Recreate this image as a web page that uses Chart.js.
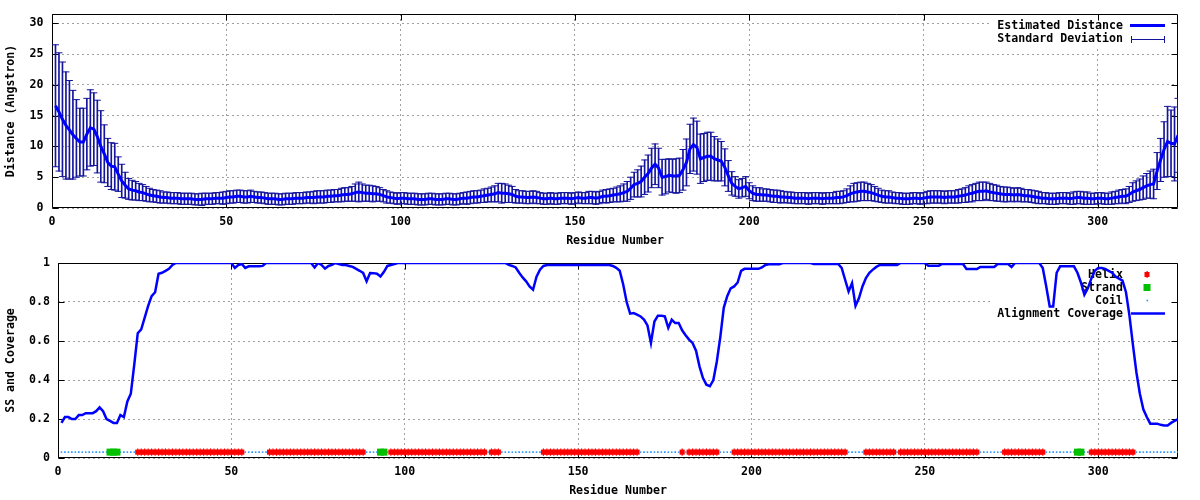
<!DOCTYPE html>
<html><head><meta charset="utf-8">
<script src="https://cdn.jsdelivr.net/npm/chart.js@4/dist/chart.umd.min.js"></script>
<style>
html,body{margin:0;padding:0;background:#fff;width:1200px;height:500px;overflow:hidden}
.box{position:absolute;left:0;width:1200px;height:250px}
canvas{display:block}
</style></head><body>
<div class="box" style="top:0"><canvas id="c1" width="1200" height="250"></canvas></div>
<div class="box" style="top:250px"><canvas id="c2" width="1200" height="250"></canvas></div>
<script>
// ---------------- DATA ----------------
const residueCount = 323;
const residues = Array.from({length: residueCount}, (_, i) => i + 1);

const estimatedDistance = [
16.6,15.6,14.4,13.4,12.7,11.9,11.3,10.7,10.7,12.0,
13.0,12.8,11.6,10.0,8.8,7.4,6.8,6.7,5.5,4.4,
3.7,3.1,2.9,2.8,2.6,2.5,2.3,2.1,2.0,1.9,
1.8,1.7,1.7,1.6,1.6,1.6,1.5,1.5,1.5,1.5,
1.4,1.4,1.4,1.5,1.5,1.5,1.6,1.6,1.6,1.7,
1.8,1.8,1.9,1.9,1.8,1.8,1.9,1.8,1.7,1.7,
1.6,1.5,1.5,1.5,1.4,1.4,1.5,1.5,1.5,1.6,
1.6,1.6,1.7,1.7,1.7,1.8,1.8,1.8,1.9,1.9,
2.0,2.0,2.1,2.2,2.2,2.3,2.5,2.6,2.5,2.4,
2.4,2.3,2.3,2.2,2.0,1.8,1.7,1.6,1.5,1.6,
1.6,1.5,1.5,1.5,1.4,1.4,1.4,1.5,1.5,1.4,
1.4,1.4,1.5,1.5,1.4,1.4,1.5,1.6,1.6,1.7,
1.8,1.8,1.9,2.0,2.1,2.2,2.3,2.5,2.4,2.4,
2.3,2.2,1.9,1.8,1.8,1.7,1.7,1.8,1.7,1.6,
1.5,1.5,1.6,1.5,1.5,1.6,1.6,1.6,1.5,1.6,
1.7,1.6,1.6,1.7,1.7,1.6,1.7,1.9,1.9,2.0,
2.1,2.2,2.3,2.5,2.7,3.2,3.8,4.0,4.3,5.0,
5.6,6.5,7.1,6.5,5.0,5.1,5.3,5.2,5.2,5.3,
6.2,7.4,9.6,10.3,9.8,8.0,8.2,8.4,8.4,8.0,
7.8,7.6,6.6,5.2,4.0,3.5,3.1,3.3,3.5,2.8,
2.4,2.2,2.2,2.1,2.1,2.0,1.9,1.9,1.8,1.8,
1.7,1.7,1.6,1.6,1.6,1.6,1.5,1.6,1.6,1.6,
1.5,1.6,1.6,1.6,1.7,1.7,1.8,2.0,2.3,2.5,
2.6,2.7,2.7,2.6,2.5,2.3,2.1,1.9,1.8,1.8,
1.7,1.6,1.6,1.5,1.5,1.5,1.6,1.6,1.5,1.6,
1.7,1.8,1.8,1.8,1.8,1.7,1.8,1.8,1.8,1.9,
2.0,2.1,2.3,2.4,2.6,2.7,2.7,2.8,2.6,2.5,
2.4,2.3,2.2,2.2,2.2,2.1,2.2,2.1,2.0,2.0,
1.9,1.8,1.7,1.6,1.6,1.5,1.5,1.5,1.6,1.6,
1.6,1.5,1.6,1.7,1.7,1.6,1.6,1.5,1.5,1.6,
1.6,1.5,1.5,1.6,1.7,1.8,1.9,1.9,2.2,2.6,
2.8,3.0,3.3,3.6,3.8,3.9,6.0,7.8,9.5,10.8,
10.5,10.4,11.8
];

const standardDeviation = [
9.9,9.6,9.3,8.7,8.0,7.2,6.3,5.5,5.5,5.8,
6.2,5.9,5.9,5.8,4.7,3.9,3.8,3.8,2.8,2.7,
2.1,1.7,1.6,1.5,1.4,1.3,1.2,1.1,1.0,1.0,
1.0,0.9,0.9,0.9,0.9,0.9,0.9,0.9,0.9,0.9,
0.9,0.9,1.0,0.9,0.9,0.9,0.9,0.9,1.0,1.0,
1.0,1.0,1.0,1.0,1.0,1.0,1.0,0.9,0.9,0.9,
0.9,0.9,0.9,0.9,0.9,0.9,0.9,0.9,0.9,0.9,
0.9,0.9,0.9,0.9,1.0,1.0,1.0,1.0,1.0,1.0,
1.0,1.0,1.1,1.1,1.1,1.2,1.4,1.6,1.4,1.3,
1.3,1.3,1.2,1.1,1.0,1.0,0.9,0.9,0.9,0.9,
0.9,0.9,0.9,0.9,0.9,0.9,0.9,0.9,0.9,0.9,
0.9,0.9,0.9,0.9,0.9,0.9,0.9,0.9,1.0,1.0,
1.0,1.0,1.0,1.1,1.1,1.2,1.3,1.5,1.6,1.5,
1.4,1.3,1.1,1.0,1.0,1.0,1.0,1.0,1.0,0.9,
0.9,0.9,0.9,0.9,0.9,0.9,0.9,0.9,0.9,0.9,
0.9,0.9,0.9,1.0,1.0,1.0,1.0,1.0,1.1,1.1,
1.1,1.2,1.3,1.4,1.6,1.8,2.0,2.2,2.5,2.8,
3.0,3.2,3.3,3.2,2.9,2.8,2.7,2.7,2.8,2.8,
3.3,3.8,4.0,4.3,4.3,4.0,3.9,3.9,3.9,3.6,
3.4,3.2,3.0,2.5,1.9,1.6,1.5,1.5,1.6,1.3,
1.2,1.1,1.1,1.0,1.0,1.0,1.0,1.0,1.0,0.9,
0.9,0.9,0.9,0.9,0.9,0.9,0.9,0.9,0.9,0.9,
0.9,0.9,0.9,0.9,1.0,1.0,1.0,1.1,1.3,1.5,
1.5,1.5,1.5,1.4,1.3,1.2,1.1,1.0,1.0,1.0,
0.9,0.9,0.9,0.9,0.9,0.9,0.9,0.9,0.9,0.9,
1.0,1.0,1.0,1.0,1.0,1.0,1.0,1.0,1.0,1.1,
1.1,1.2,1.3,1.4,1.4,1.5,1.5,1.4,1.4,1.3,
1.3,1.2,1.2,1.2,1.1,1.1,1.1,1.1,1.0,1.0,
1.0,1.0,1.0,0.9,0.9,0.9,0.9,0.9,0.9,0.9,
0.9,0.9,1.0,1.0,1.0,1.0,1.0,0.9,0.9,0.9,
0.9,0.9,0.9,1.0,1.0,1.1,1.1,1.2,1.3,1.5,
1.6,1.7,1.9,2.0,2.2,2.4,3.0,3.5,4.5,5.7,
5.4,6.0,6.0
];

const alignmentCoverage = [
0.18,0.21,0.21,0.20,0.20,0.22,0.22,0.23,0.23,0.23,
0.24,0.26,0.24,0.20,0.19,0.18,0.18,0.22,0.21,0.29,
0.33,0.48,0.64,0.66,0.72,0.78,0.83,0.85,0.945,0.95,
0.96,0.97,0.99,1,1,1,1,1,1,1,
1,1,1,1,1,1,1,1,1,1,
0.975,0.99,0.995,0.975,0.983,0.983,0.983,0.983,0.985,1,
1,1,1,1,1,1,1,1,1,1,
1,1,1,0.977,1,0.99,0.971,0.985,0.99,1,
0.995,0.99,0.99,0.985,0.98,0.97,0.96,0.949,0.906,0.949,
0.948,0.945,0.931,0.955,0.985,0.99,0.995,1,1,1,
1,1,1,1,1,1,1,1,1,1,
1,1,1,1,1,1,1,1,1,1,
1,1,1,1,1,1,1,1,1,0.99,
0.985,0.977,0.95,0.926,0.906,0.88,0.863,0.93,0.966,0.985,
0.99,0.99,0.99,0.99,0.99,0.99,0.99,0.99,0.99,0.99,
0.99,0.99,0.99,0.99,0.99,0.99,0.99,0.99,0.99,0.985,
0.975,0.96,0.89,0.80,0.74,0.743,0.735,0.726,0.71,0.68,
0.59,0.70,0.73,0.73,0.726,0.667,0.709,0.692,0.692,0.655,
0.63,0.607,0.59,0.55,0.47,0.41,0.376,0.368,0.40,0.495,
0.62,0.77,0.83,0.87,0.88,0.90,0.96,0.97,0.97,0.97,
0.97,0.97,0.977,0.99,0.993,0.993,0.993,0.993,1,1,
1,1,1,1,1,1,1,0.995,0.995,0.995,
0.995,0.995,0.995,0.995,0.995,0.975,0.914,0.854,0.897,0.78,
0.82,0.88,0.923,0.95,0.966,0.98,0.99,0.99,0.99,0.99,
0.99,0.99,1,1,1,1,1,1,1,1,
0.986,0.986,0.986,0.986,0.995,0.995,0.995,0.995,0.995,0.995,
0.995,0.969,0.969,0.969,0.969,0.98,0.98,0.98,0.98,0.98,
0.995,0.995,0.995,0.995,0.98,1,1,1,1,1,
1,1,1,0.974,0.88,0.777,0.777,0.95,0.983,0.983,
0.983,0.983,0.983,0.95,0.9,0.837,0.87,0.92,0.96,0.975,
0.975,0.97,0.96,0.95,0.93,0.92,0.91,0.85,0.73,0.58,
0.44,0.33,0.25,0.21,0.176,0.176,0.176,0.17,0.167,0.167,
0.18,0.19,0.2
];

// secondary structure segments [first residue, last residue]
const helixSegments = [[23,53],[61,88],[96,123],[125,127],[140,167],[180,180],[182,190],[195,227],[233,241],[243,265],[273,284],[298,310]];
const strandSegments = [[15,17],[93,94],[294,295]];
const ssLevel = 0.03;

const xTicksStep = 50;
const distTicks = [0,5,10,15,20,25,30];
const covTicks = [0,0.2,0.4,0.6,0.8,1];

// ---------------- STYLE ----------------
const FONT = {family: "'DejaVu Sans Mono', monospace", size: 11.6, weight: 'bold'};
const FONTCSS = "bold 11.6px 'DejaVu Sans Mono', monospace";
const GRID = '#a0a0a0';
const ERR = '#14149c';
const BLUE = '#0000ff';
Chart.defaults.font = FONT;
Chart.defaults.color = '#000';

function inSeg(segs, r){ return segs.some(s => r >= s[0] && r <= s[1]); }
const helixPts = residues.filter(r => inSeg(helixSegments, r)).map(r => ({x:r, y:ssLevel}));
const strandPts = residues.filter(r => inSeg(strandSegments, r)).map(r => ({x:r, y:ssLevel}));
const coilPts = residues.filter(r => !inSeg(helixSegments, r) && !inSeg(strandSegments, r)).map(r => ({x:r, y:ssLevel}));

function gnuplotPlugin(legendItems, boxRect){
  return {
    id: 'gnu',
    beforeDatasetsDraw(chart){
      const {ctx, chartArea:a, scales:{x, y}} = chart;
      ctx.save();
      ctx.fillStyle = '#fff';
      ctx.fillRect(boxRect[0], boxRect[1], boxRect[2], boxRect[3]);
      ctx.font = FONTCSS; ctx.textAlign = 'right'; ctx.textBaseline = 'middle'; ctx.fillStyle = '#000';
      legendItems.forEach(it => { ctx.fillStyle = '#000'; ctx.fillText(it.text, 1123, it.y); it.draw(ctx, it.y); });
      ctx.strokeStyle = '#000'; ctx.lineWidth = 1; ctx.setLineDash([]);
      const L = Math.round(a.left)+0.5, R = Math.round(a.right)-0.5, T = Math.round(a.top)+0.5, B = Math.round(a.bottom)-0.5;
      ctx.beginPath();
      ctx.rect(L, T, R-L, B-T);
      x.ticks.forEach(t => { const p = Math.round(x.getPixelForValue(t.value))+0.5; ctx.moveTo(p,B); ctx.lineTo(p,B-6); ctx.moveTo(p,T); ctx.lineTo(p,T+6); });
      y.ticks.forEach(t => { const p = Math.round(y.getPixelForValue(t.value))+0.5; ctx.moveTo(L,p); ctx.lineTo(L+6,p); ctx.moveTo(R,p); ctx.lineTo(R-6,p); });
      ctx.stroke();
      ctx.restore();
    }
  };
}

function baseScales(yOpts, yWidth, yTitle){
  return {
    x: {
      type: 'linear', min: 0, max: residueCount, offset: false,
      ticks: {stepSize: xTicksStep, includeBounds: false, padding: 7.5, maxRotation: 0, autoSkip: false, font: FONT, color: '#000'},
      grid: {color: GRID, drawTicks: false, offset: false, borderDash: [2,3], lineWidth: 1},
      border: {display: false, dash: [2,3]},
      title: {display: true, text: 'Residue Number', font: FONT, color: '#000', padding: {top: 0, bottom: 2}},
      afterFit(s){ s.height = 42; s.paddingLeft = 0; s.paddingRight = 0; }
    },
    y: Object.assign({
      type: 'linear',
      grid: {color: GRID, drawTicks: false, borderDash: [2,3], lineWidth: 1},
      border: {display: false, dash: [2,3]},
      title: {display: true, text: yTitle, font: FONT, color: '#000', padding: {top: 4, bottom: 0}},
      afterFit(s){ s.width = yWidth; s.paddingTop = 0; s.paddingBottom = 0; }
    }, yOpts)
  };
}

const fmtTick = v => String(Math.round(v * 10) / 10);

// ---------------- TOP CHART ----------------
new Chart(document.getElementById('c1'), {
  type: 'scatter',
  data: {
    datasets: [
      {type: 'line', label: 'Estimated Distance', data: residues.map((r,i) => ({x:r, y:estimatedDistance[i]})),
       borderColor: BLUE, borderWidth: 3, pointRadius: 0, fill: false, tension: 0, order: 0},
      {type: 'bar', label: 'Standard Deviation', data: residues.map((r,i) => ({x:r, y:[estimatedDistance[i]-standardDeviation[i], estimatedDistance[i]+standardDeviation[i]]})),
       backgroundColor: ERR, borderWidth: 0, barThickness: 1, order: 2},
      {type: 'scatter', data: residues.map((r,i) => ({x:r, y:estimatedDistance[i]+standardDeviation[i]})),
       pointStyle: 'line', pointRadius: 3.5, pointBorderWidth: 1, pointBorderColor: ERR, borderColor: ERR, showLine: false, order: 1},
      {type: 'scatter', data: residues.map((r,i) => ({x:r, y:estimatedDistance[i]-standardDeviation[i]})),
       pointStyle: 'line', pointRadius: 3.5, pointBorderWidth: 1, pointBorderColor: ERR, borderColor: ERR, showLine: false, order: 1}
    ]
  },
  options: {
    responsive: false, animation: false, devicePixelRatio: 1,
    layout: {padding: {top: 14, right: 22, left: 0, bottom: 0}},
    plugins: {legend: {display: false}, tooltip: {enabled: false}},
    scales: baseScales({min: 0, max: 31.5, ticks: {stepSize: 5, includeBounds: false, padding: 8.5, font: FONT, color: '#000', callback: fmtTick}}, 52, 'Distance (Angstron)')
  },
  plugins: [gnuplotPlugin([
    {text: 'Estimated Distance', y: 25.5, draw(ctx, y){ ctx.strokeStyle = BLUE; ctx.lineWidth = 3; ctx.beginPath(); ctx.moveTo(1130, y); ctx.lineTo(1165, y); ctx.stroke(); }},
    {text: 'Standard Deviation', y: 39, draw(ctx, y){ ctx.strokeStyle = ERR; ctx.lineWidth = 1; ctx.beginPath(); ctx.moveTo(1131, y+0.5); ctx.lineTo(1165, y+0.5); ctx.moveTo(1131.5, y-3); ctx.lineTo(1131.5, y+4); ctx.moveTo(1164.5, y-3); ctx.lineTo(1164.5, y+4); ctx.stroke(); }}
  ], [992, 15, 184, 31])]
});

// ---------------- BOTTOM CHART ----------------
new Chart(document.getElementById('c2'), {
  type: 'scatter',
  data: {
    datasets: [
      {type: 'line', label: 'Alignment Coverage', data: residues.map((r,i) => ({x:r, y:alignmentCoverage[i]})),
       borderColor: BLUE, borderWidth: 2.5, pointRadius: 0, fill: false, tension: 0, order: 0},
      {label: 'Helix', data: helixPts, pointStyle: 'rect', pointRadius: 3.6, pointBorderWidth: 0, pointBackgroundColor: '#ff0000', backgroundColor: '#ff0000', order: 2},
      {label: 'Helix ticks', data: helixPts, pointStyle: 'line', pointRotation: 90, pointRadius: 3.7, pointBorderWidth: 1.2, pointBorderColor: '#ff0000', borderColor: '#ff0000', order: 2},
      {label: 'Strand', data: strandPts, pointStyle: 'rect', pointRadius: 4.95, pointBorderWidth: 0, pointBackgroundColor: '#00c000', backgroundColor: '#00c000', order: 2},
      {label: 'Coil', data: coilPts, pointStyle: 'rect', pointRadius: 1.1, pointBorderWidth: 0, pointBackgroundColor: '#2090ff', backgroundColor: '#2090ff', order: 2}
    ]
  },
  options: {
    responsive: false, animation: false, devicePixelRatio: 1,
    layout: {padding: {top: 13, right: 22, left: 0, bottom: 0}},
    plugins: {legend: {display: false}, tooltip: {enabled: false}},
    scales: baseScales({min: 0, max: 1, ticks: {stepSize: 0.2, includeBounds: false, padding: 8, font: FONT, color: '#000', callback: fmtTick}}, 58, 'SS and Coverage')
  },
  plugins: [gnuplotPlugin([
    {text: 'Helix', y: 24.5, draw(ctx, y){ ctx.fillStyle = '#ff0000'; ctx.fillRect(1144.5, y-2.5, 5, 5); ctx.fillRect(1146.5, y-3.5, 1.2, 7); }},
    {text: 'Strand', y: 37.5, draw(ctx, y){ ctx.fillStyle = '#00c000'; ctx.fillRect(1143.5, y-3.5, 7, 7); }},
    {text: 'Coil', y: 50.5, draw(ctx, y){ ctx.fillStyle = '#2090ff'; ctx.fillRect(1146.5, y-0.8, 1.6, 1.6); }},
    {text: 'Alignment Coverage', y: 63.5, draw(ctx, y){ ctx.strokeStyle = BLUE; ctx.lineWidth = 2.5; ctx.beginPath(); ctx.moveTo(1131, y); ctx.lineTo(1165, y); ctx.stroke(); }}
  ], [992, 14, 184, 57])]
});
</script>
</body></html>
